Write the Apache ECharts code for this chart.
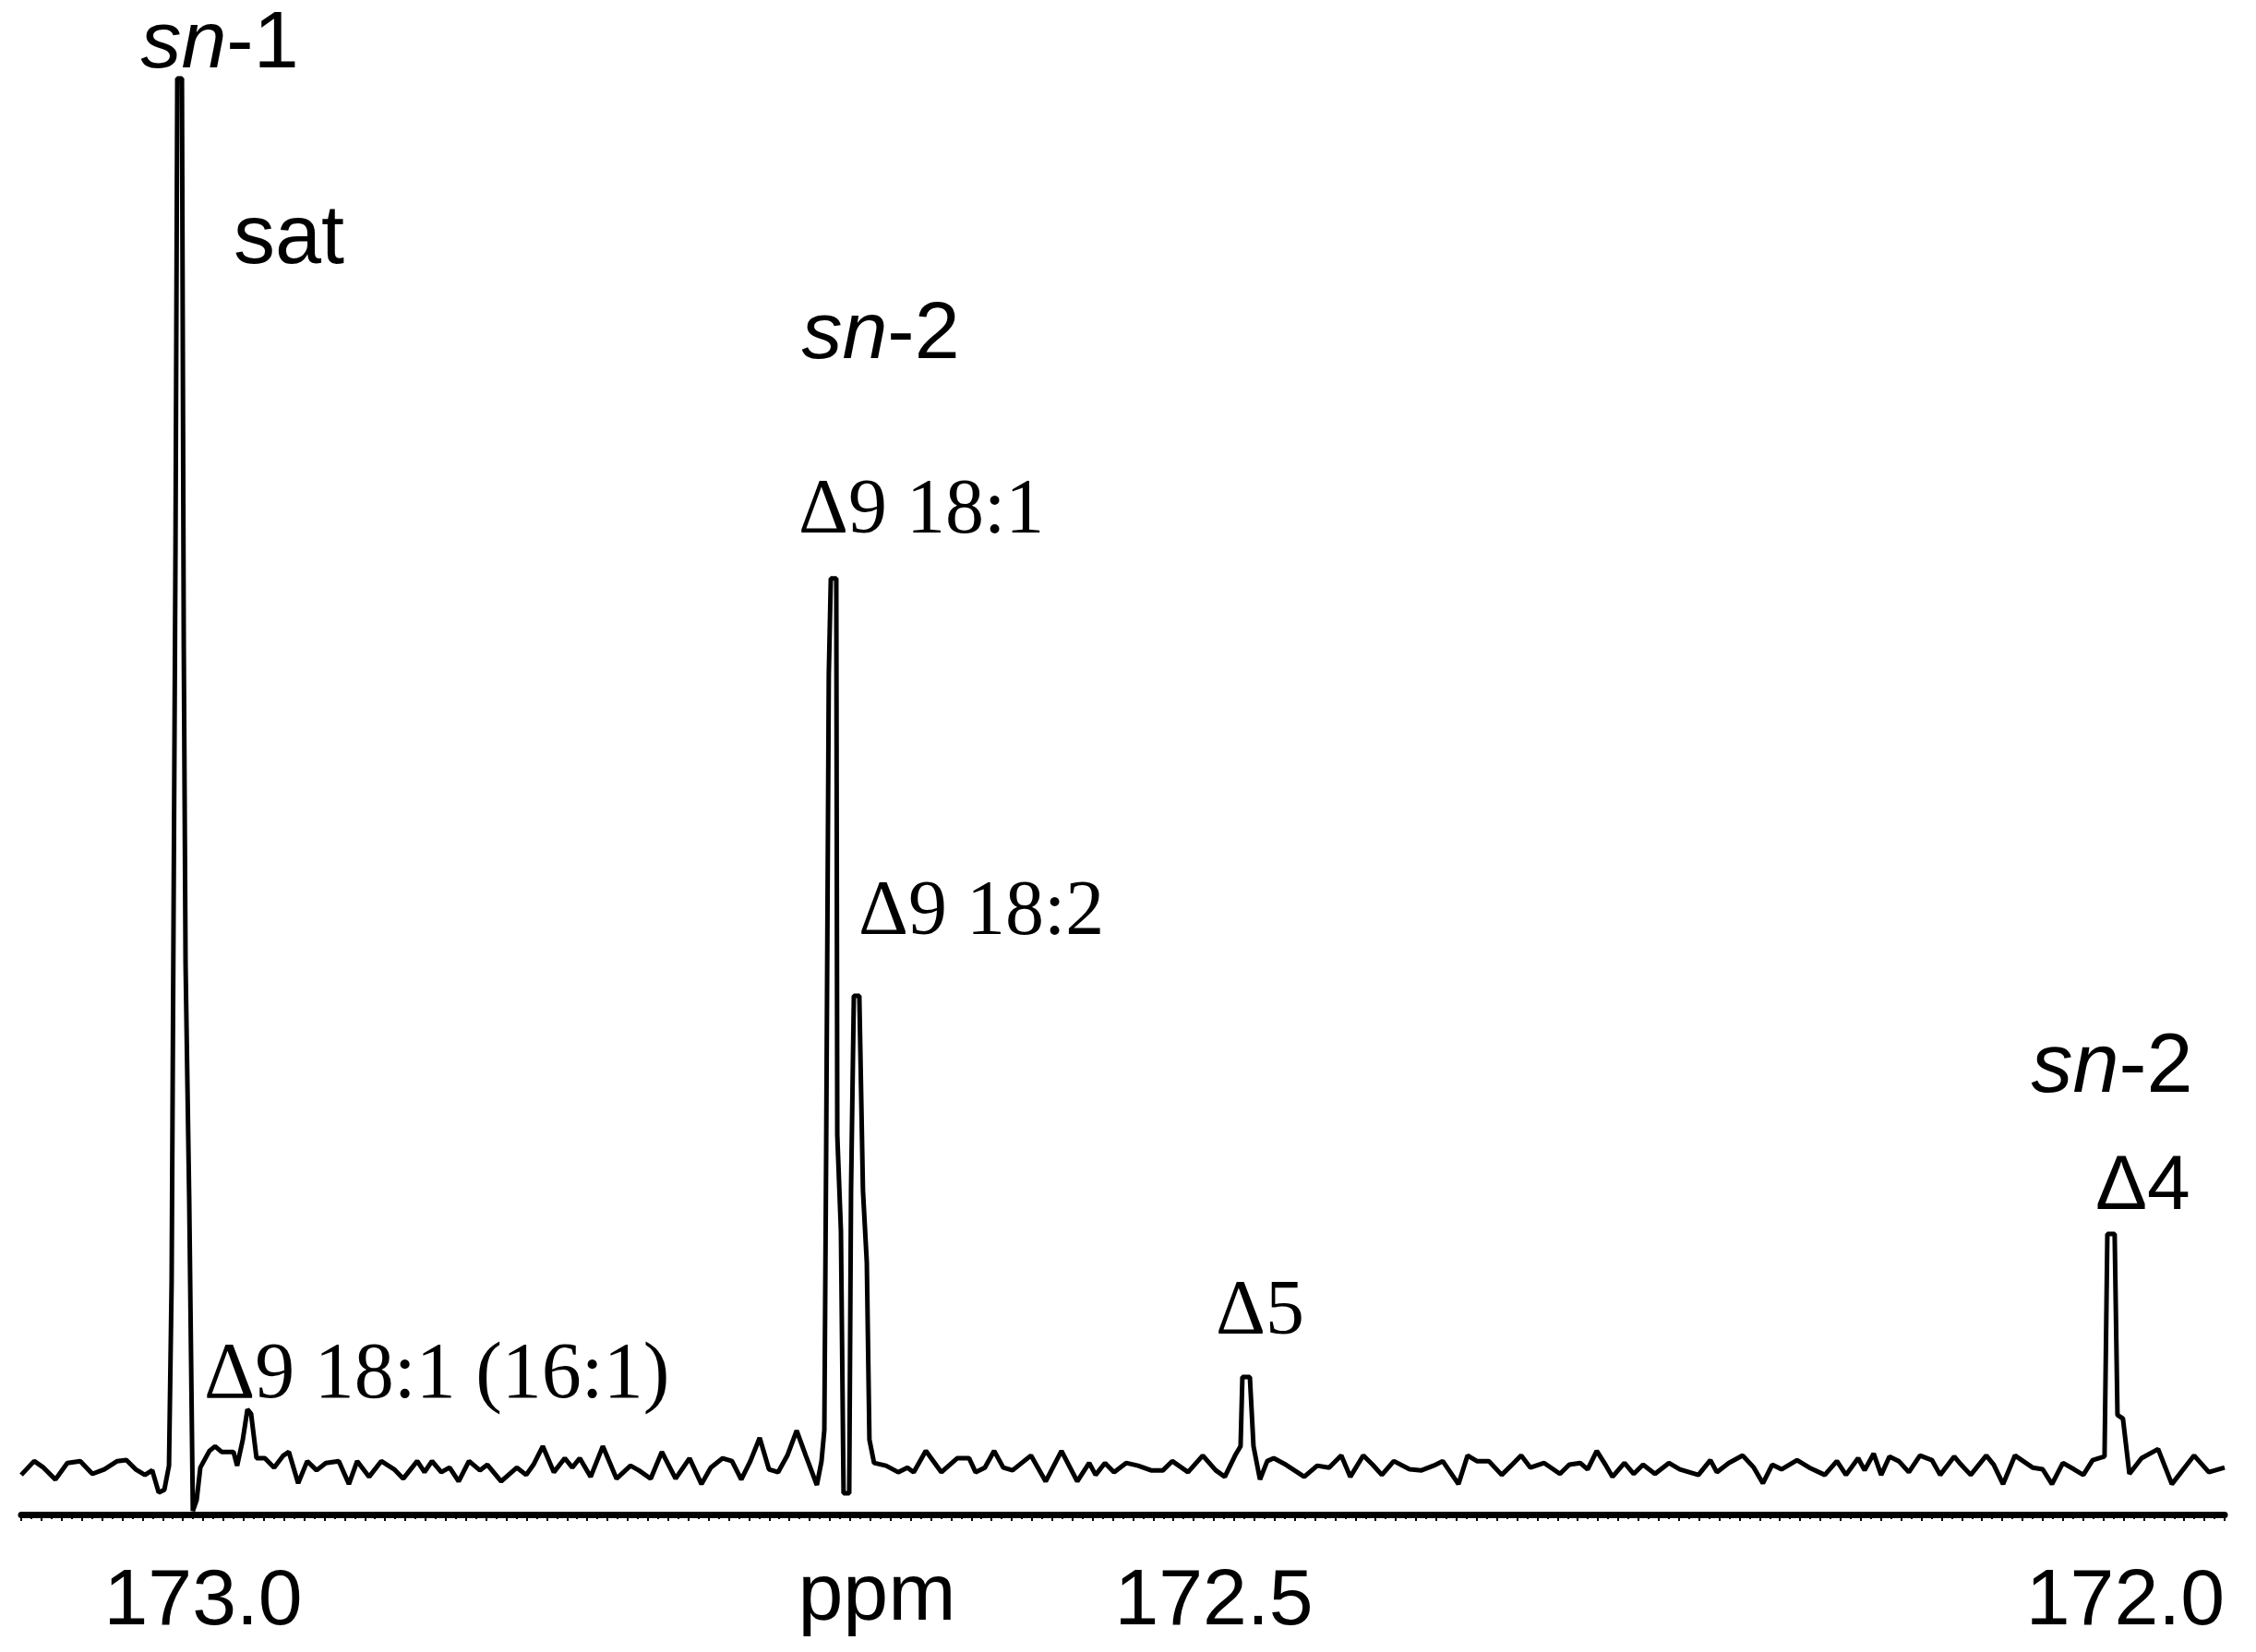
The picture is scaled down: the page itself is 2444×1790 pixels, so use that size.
<!DOCTYPE html>
<html><head><meta charset="utf-8">
<script src="https://cdn.jsdelivr.net/npm/echarts@6/dist/echarts.min.js"></script>
<style>html,body{margin:0;padding:0;background:#fff}#c{width:2444px;height:1790px}</style>
</head><body><div id="c"></div>
<script>
// 13C NMR carbonyl region: [chemical shift (ppm), intensity]
const spectrum = [
[173.0900,-4.5],[173.0836,5.1],[173.0790,0.6],[173.0731,-7.7],[173.0672,3.8],[173.0608,5.1],[173.0548,-3.8],[173.0489,-0.6],[173.0425,5.1],[173.0380,5.8],[173.0334,-0.6],[173.0288,-4.5],[173.0252,-1.3],[173.0220,-16.7],[173.0192,-14.8],[173.0169,1.9],[173.0156,129],[173.0137,636],[173.0128,966],[173.0105,966],[173.0096,572],[173.0087,350],[173.0069,187],[173.0051,-29.5],[173.0032,-21.8],[173.0014,0.6],
[172.9969,12.2],[172.9941,15.4],[172.9909,11.5],[172.9850,11.5],[172.9832,1.9],[172.9804,19.9],[172.9781,41],[172.9763,38],[172.9736,7.1],[172.9695,7.1],[172.9649,0.6],[172.9603,9.0],[172.9576,11.5],[172.9530,-10.3],[172.9485,5.1],[172.9439,-1.3],[172.9393,3.8],[172.9329,5.1],[172.9279,-10.9],[172.9238,5.1],[172.9179,-5.8],[172.9119,5.1],[172.9055,-0.6],[172.9010,-7.1],
[172.8941,5.1],[172.8905,-2.6],[172.8868,5.1],[172.8822,-2.6],[172.8781,0.6],[172.8736,-9.0],[172.8685,5.1],[172.8631,-1.3],[172.8594,2.6],[172.8526,-9.0],[172.8448,0.6],[172.8402,-4.5],[172.8366,2.6],[172.8320,15.4],[172.8265,-2.6],[172.8211,7.1],[172.8174,0.6],[172.8137,7.1],[172.8083,-5.8],[172.8023,15.4],
[172.7955,-7.1],[172.7886,1.9],[172.7845,-1.3],[172.7786,-7.1],[172.7731,11.5],[172.7663,-7.1],[172.7594,7.1],[172.7535,-10.9],[172.7489,0.6],[172.7430,7.1],[172.7384,5.1],[172.7338,-7.7],[172.7293,5.1],[172.7247,21.2],[172.7201,-0.6],[172.7156,-2.6],[172.7110,9.0],[172.7064,26.3],[172.7019,9.0],
[172.6964,-11.5],[172.6941,5.1],[172.6927,26.9],[172.6918,220.7],[172.6905,551.8],[172.6895,618.5],[172.6868,618.5],[172.6863,231.6],[172.6845,164.9],[172.6832,-17.3],[172.6804,-17.3],[172.6795,193.1],[172.6781,328.5],[172.6754,328.5],[172.6736,193.1],[172.6717,143.1],[172.6704,19.9],[172.6681,3.8],[172.6622,1.9],[172.6562,-2.6],[172.6516,0.6],[172.6485,-2.6],[172.6425,12.2],[172.6348,-2.6],[172.6270,7.1],[172.6211,7.1],[172.6179,-2.6],[172.6133,0.6],[172.6087,12.2],[172.6042,0.6],
[172.5996,-1.3],[172.5905,9.0],[172.5832,-9.0],[172.5754,12.2],[172.5676,-9.0],[172.5617,3.8],[172.5585,-4.5],[172.5539,3.8],[172.5494,-2.6],[172.5434,3.8],[172.5375,1.9],[172.5311,-1.3],[172.5252,-1.3],[172.5206,5.1],[172.5128,-2.6],[172.5055,9.0],
[172.4991,-1.3],[172.4946,-5.8],[172.4895,9.0],[172.4868,15.4],[172.4859,63.5],[172.4822,63.5],[172.4804,15.4],[172.4772,-7.7],[172.4736,5.1],[172.4704,7.1],[172.4644,2.6],[172.4553,-5.8],[172.4489,1.9],[172.4430,0.6],[172.4370,9.0],[172.4325,-5.8],[172.4261,9.0],[172.4215,2.6],[172.4169,-4.5],[172.4110,5.1],[172.4032,-0.6],
[172.3973,-1.3],[172.3914,1.9],[172.3868,5.1],[172.3790,-10.9],[172.3745,9.0],[172.3699,5.1],[172.3640,5.1],[172.3576,-4.5],[172.3530,1.9],[172.3480,9.0],[172.3434,0.6],[172.3366,3.8],[172.3288,-3.8],[172.3242,2.6],[172.3188,3.8],[172.3151,-0.6],[172.3106,12.2],[172.3060,1.9],[172.3028,-5.8],
[172.2969,3.8],[172.2923,-3.8],[172.2877,2.6],[172.2818,-3.8],[172.2749,3.8],[172.2695,-0.6],[172.2603,-4.5],[172.2544,5.8],[172.2512,-2.6],[172.2453,3.8],[172.2384,9.0],[172.2329,0.6],[172.2284,-10.3],[172.2238,2.6],[172.2192,-0.6],[172.2115,5.8],[172.2055,0.6],
[172.1978,-4.5],[172.1918,5.1],[172.1873,-4.5],[172.1813,7.1],[172.1781,-1.3],[172.1736,10.3],[172.1699,-4.5],[172.1658,8.3],[172.1612,5.1],[172.1562,-2.6],[172.1507,9.0],[172.1448,5.8],[172.1407,-4.5],[172.1338,8.3],[172.1311,3.8],[172.1256,-4.5],[172.1179,9.0],[172.1142,2.6],[172.1096,-10.9],[172.1037,9.0],
[172.0950,0.6],[172.0900,-0.6],[172.0854,-10.9],[172.0800,3.8],[172.0745,-0.6],[172.0699,-4.5],[172.0653,5.8],[172.0594,8.3],[172.0580,163],[172.0544,163],[172.0530,37.2],[172.0503,34.6],[172.0471,-3.8],[172.0411,7.1],[172.0329,13.5],[172.0261,-10.9],[172.0151,9.0],[172.0078,-2.6],[172.0000,0.6]
];
const tickValues = [172.0, 172.5, 173.0];
const axisUnit = 'ppm';
const peakLabels = ['sn-1', 'sat', 'sn-2', 'Δ9 18:1', 'Δ9 18:2', 'Δ9 18:1 (16:1)', 'Δ5', 'sn-2', 'Δ4'];

// layout of annotation texts (pixel anchor, baseline y, font size, family, alignment)
const SANS = 'Liberation Sans, Arial, sans-serif';
const SERIF = 'Liberation Serif, Times New Roman, serif';
const labelLayout = [
  {x: 238, base: 75, size: 88, fam: SANS, align: 'center'},
  {x: 253, base: 287, size: 90, fam: SANS, align: 'left'},
  {x: 954, base: 390, size: 88, fam: SANS, align: 'center'},
  {x: 865, base: 580, size: 84, fam: SERIF, align: 'left'},
  {x: 930, base: 1015, size: 84, fam: SERIF, align: 'left'},
  {x: 221, base: 1517, size: 86, fam: SERIF, align: 'left'},
  {x: 1317, base: 1448, size: 84, fam: SERIF, align: 'left'},
  {x: 2288, base: 1185, size: 90, fam: SANS, align: 'center'},
  {x: 2270, base: 1312, size: 84, fam: SANS, align: 'left'}
];

const graphics = peakLabels.map((t, i) => {
  const L = labelLayout[i];
  const style = {
    x: L.x, y: L.base - 0.3 * L.size, fill: '#000',
    font: `${L.size}px ${L.fam}`, textAlign: L.align, textVerticalAlign: 'middle'
  };
  if (/^sn/.test(t)) {
    style.text = '{i|sn}{n|' + t.slice(2) + '}';
    style.rich = {
      i: {fontStyle: 'italic', fontSize: L.size, fontFamily: L.fam, fill: '#000'},
      n: {fontSize: L.size, fontFamily: L.fam, fill: '#000'}
    };
  } else {
    style.text = t;
  }
  return {type: 'text', style: style, z: 10};
});
graphics.push({type: 'text', z: 10, style: {
  x: 950, y: 1757 - 0.3 * 88, text: axisUnit, font: '88px ' + SANS,
  fill: '#000', textAlign: 'center', textVerticalAlign: 'middle'
}});

const chart = echarts.init(document.getElementById('c'), null, {renderer: 'canvas'});
chart.setOption({
  animation: false,
  backgroundColor: '#fff',
  grid: {left: 23, right: 34, top: 32, bottom: 149, containLabel: false, outerBoundsMode: 'none'},
  xAxis: {
    type: 'value', inverse: true, min: 172.0, max: 173.09, interval: 0.01,
    position: 'bottom',
    axisLine: {show: true, onZero: false, lineStyle: {color: '#000', width: 7}},
    axisTick: {show: true, length: 7, lineStyle: {color: '#000', width: 2}},
    minorTick: {show: true, splitNumber: 2, length: 5, lineStyle: {color: '#000', width: 2}},
    splitLine: {show: false},
    axisLabel: {
      customValues: tickValues,
      formatter: v => Number(v).toFixed(1),
      fontSize: 86, fontFamily: SANS, color: '#000', margin: 52,
      alignMinLabel: 'right', alignMaxLabel: 'center', showMinLabel: true, showMaxLabel: true
    }
  },
  yAxis: {type: 'value', min: -32, max: 1000, show: false},
  series: [{
    type: 'line', data: spectrum, showSymbol: false, symbol: 'none',
    lineStyle: {color: '#000', width: 5}, clip: false
  }],
  graphic: graphics
});
</script></body></html>
